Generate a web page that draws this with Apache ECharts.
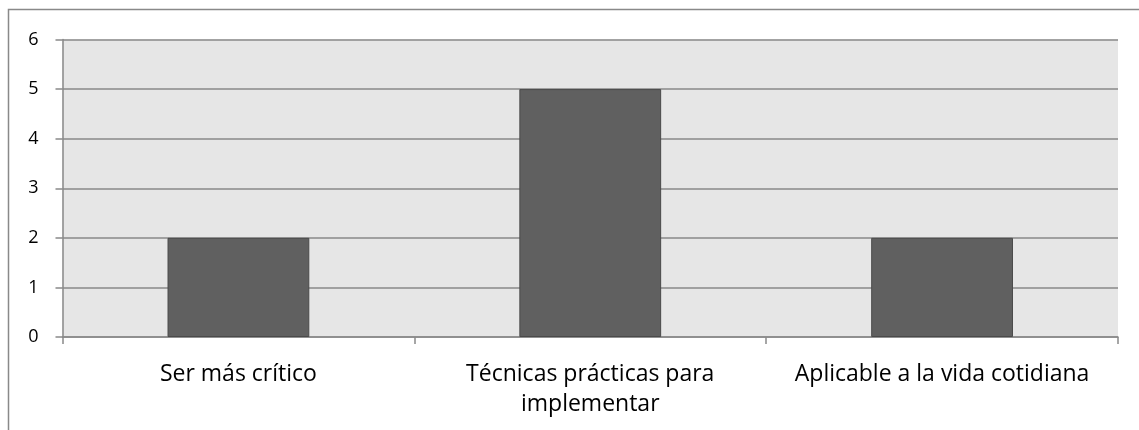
<!DOCTYPE html>
<html>
<head>
<meta charset="utf-8">
<script src="https://cdn.jsdelivr.net/npm/echarts@6/dist/echarts.min.js"></script>
<style>
  html, body { margin: 0; padding: 0; background: #ffffff; }
  #chart { width: 1139px; height: 430px; }
</style>
</head>
<body>
<div id="chart"></div>
<script>
// Categories and counts
const categories = ['Ser más crítico', 'Técnicas prácticas para\nimplementar', 'Aplicable a la vida cotidiana'];
const counts = [2, 5, 2];
const yTicks = [0, 1, 2, 3, 4, 5, 6];

const chart = echarts.init(document.getElementById('chart'), null, { renderer: 'canvas' });

const option = {
  animation: false,
  backgroundColor: '#ffffff',
  graphic: [{
    type: 'rect',
    silent: true,
    shape: { x: 8.5, y: 9.5, width: 1300, height: 600 },
    style: { fill: 'none', stroke: '#898989', lineWidth: 1.5 }
  }],
  grid: {
    left: 62.5, right: 21, top: 39.5, bottom: 93,
    show: true, backgroundColor: '#e6e6e6', borderWidth: 0
  },
  xAxis: {
    type: 'category',
    data: categories,
    boundaryGap: true,
    axisLine: { show: true, lineStyle: { color: '#898989', width: 1.5 } },
    axisTick: { show: true, alignWithLabel: false, length: 7, lineStyle: { color: '#898989', width: 1.5 } },
    axisLabel: {
      color: '#000000', fontFamily: 'Open Sans', fontSize: 23, lineHeight: 30, margin: 22,
      interval: 0
    },
    splitLine: { show: false }
  },
  yAxis: {
    type: 'value',
    min: yTicks[0], max: yTicks[yTicks.length - 1], interval: 1,
    axisLine: { show: true, lineStyle: { color: '#898989', width: 1.5 } },
    axisTick: { show: true, length: 7, lineStyle: { color: '#898989', width: 1.5 } },
    axisLabel: { color: '#000000', fontFamily: 'Open Sans', fontSize: 18, margin: 24 },
    splitLine: { show: true, lineStyle: { color: '#898989', width: 1.5 } }
  },
  series: [{
    type: 'bar',
    data: counts,
    barWidth: '40.3%',
    itemStyle: { color: '#606060', borderColor: '#4a4a4a', borderWidth: 1 }
  }]
};

chart.setOption(option);
</script>
</body>
</html>
